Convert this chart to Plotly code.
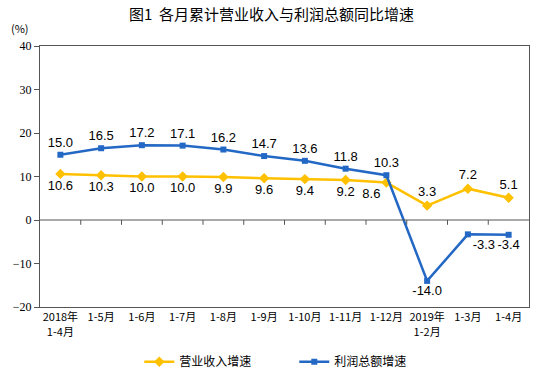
import plotly.graph_objects as go

categories = ["2018年<br>1-4月", "1-5月", "1-6月", "1-7月", "1-8月", "1-9月", "1-10月",
              "1-11月", "1-12月", "2019年<br>1-2月", "1-3月", "1-4月"]
revenue_growth = [10.6, 10.3, 10.0, 10.0, 9.9, 9.6, 9.4, 9.2, 8.6, 3.3, 7.2, 5.1]
profit_growth = [15.0, 16.5, 17.2, 17.1, 16.2, 14.7, 13.6, 11.8, 10.3, -14.0, -3.3, -3.4]
y_ticks = [-20, -10, 0, 10, 20, 30, 40]

xs = list(range(len(categories)))
rev_pos = ["bottom center"] * 8 + ["bottom left", "top center", "top center", "top center"]
prof_pos = ["top center"] * 9 + ["bottom center", "bottom right", "bottom center"]

YELLOW = "#FFC000"
BLUE = "#2368C4"
CJK = "Noto Sans CJK SC"

fig = go.Figure()
fig.add_trace(go.Scatter(
    x=xs, y=revenue_growth, name="营业收入增速", mode="lines+markers+text",
    line=dict(color=YELLOW, width=2.5), marker=dict(symbol="diamond", size=8, color=YELLOW),
    text=[f"{v:.1f}" for v in revenue_growth], textposition=rev_pos,
    textfont=dict(family="Liberation Sans", size=13, color="#000"), cliponaxis=False))
fig.add_trace(go.Scatter(
    x=xs, y=profit_growth, name="利润总额增速", mode="lines+markers+text",
    line=dict(color=BLUE, width=2.5), marker=dict(symbol="square", size=6, color=BLUE),
    text=[f"{v:.1f}" for v in profit_growth], textposition=prof_pos,
    textfont=dict(family="Liberation Sans", size=13, color="#000"), cliponaxis=False))

# zero line and tick marks on it, between categories
shapes = [dict(type="line", xref="x", yref="y", x0=-0.5, x1=len(categories) - 0.5,
               y0=0, y1=0, line=dict(color="#555", width=1))]
for i in range(len(categories) - 1):
    shapes.append(dict(type="line", xref="x", yref="y", x0=i + 0.5, x1=i + 0.5,
                       y0=0, y1=-1.1, line=dict(color="#555", width=1)))

fig.update_layout(
    width=543, height=372,
    margin=dict(l=40, r=14, t=46, b=65, autoexpand=False),
    paper_bgcolor="white", plot_bgcolor="white",
    title=dict(text="图1  各月累计营业收入与利润总额同比增速", x=0.5, xref="container",
               y=0.96, yanchor="middle",
               font=dict(family=CJK, size=15, color="#000")),
    showlegend=True,
    legend=dict(orientation="h", x=0.52, xanchor="center", xref="paper",
                y=-0.21, yanchor="middle", yref="paper",
                font=dict(family=CJK, size=12, color="#000"),
                entrywidth=110, itemwidth=30),
    xaxis=dict(range=[-0.5, len(categories) - 0.5], tickvals=xs, ticktext=categories,
               showgrid=False, zeroline=False, showline=True, linecolor="#555",
               linewidth=1, mirror=True, ticks="", tickangle=0, automargin=False,
               tickfont=dict(family=CJK, size=11, color="#000")),
    yaxis=dict(range=[-20, 40], tickvals=y_ticks, showgrid=False, zeroline=False,
               showline=True, linecolor="#555", linewidth=1, mirror=True,
               ticks="outside", ticklen=5, tickcolor="#555", automargin=False,
               tickfont=dict(family="Liberation Serif", size=12, color="#000")),
    shapes=shapes,
    annotations=[dict(text="(%)", xref="paper", yref="paper", x=-0.04, y=1.03,
                      xanchor="center", yanchor="bottom", showarrow=False,
                      font=dict(family=CJK, size=11, color="#000"))],
)

fig.write_html("out.html", config={"displayModeBar": False},
               post_script="document.body.style.margin='0';")
